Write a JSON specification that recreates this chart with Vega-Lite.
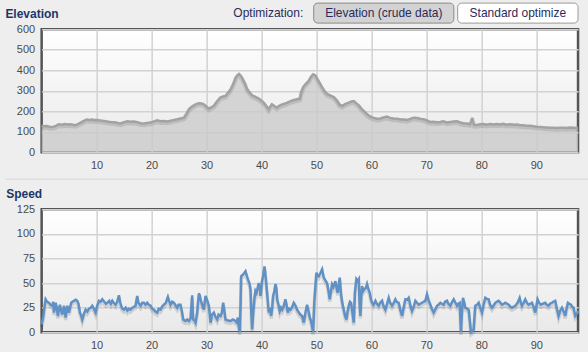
{
  "$schema": "https://vega.github.io/schema/vega-lite/v6.json",
  "background": "#eeeeee",
  "padding": {"left": 2.65, "top": 1.3, "right": 0, "bottom": 0},
  "bounds": "flush",
  "spacing": 57,
  "config": {
    "font": "Liberation Sans",
    "view": {
      "stroke": "#555555",
      "strokeWidth": 2.5,
      "fill": {"gradient": "linear", "x1": 0, "y1": 0, "x2": 0, "y2": 1, "stops": [{"offset": 0, "color": "#ffffff"}, {"offset": 1, "color": "#e9e9e9"}]}
    },
    "axis": {
      "domain": false,
      "ticks": false,
      "grid": true,
      "gridColor": "#d2d2d2",
      "gridWidth": 1.5,
      "title": null,
      "labelFont": "Liberation Sans",
      "labelFontSize": 11,
      "labelColor": "#4a4a4a",
      "labelOverlap": false,
      "labelFlush": false
    },
    "axisX": {"labelPadding": 7},
    "axisY": {"labelPadding": 7}
  },
  "datasets": {
    "elevation": [
      {"km":0,"elevation":130},{"km":0.5,"elevation":127},{"km":1.0,"elevation":128},{"km":1.5,"elevation":124},{"km":2.2,"elevation":125},{"km":2.7,"elevation":130},{"km":3.1,"elevation":137},{"km":3.7,"elevation":135},{"km":4.2,"elevation":138},{"km":4.7,"elevation":136},{"km":5.2,"elevation":137},{"km":5.7,"elevation":134},{"km":6.2,"elevation":133},{"km":6.7,"elevation":139},{"km":7.1,"elevation":145},{"km":7.6,"elevation":152},{"km":8.2,"elevation":160},{"km":8.7,"elevation":158},{"km":9.2,"elevation":160},{"km":9.5,"elevation":157},{"km":10.1,"elevation":158},{"km":10.7,"elevation":155},{"km":11.3,"elevation":153},{"km":11.9,"elevation":150},{"km":12.5,"elevation":148},{"km":13.0,"elevation":147},{"km":13.5,"elevation":145},{"km":14.0,"elevation":142},{"km":14.4,"elevation":141},{"km":15.0,"elevation":147},{"km":15.6,"elevation":151},{"km":16.2,"elevation":149},{"km":16.8,"elevation":150},{"km":17.4,"elevation":147},{"km":18.0,"elevation":142},{"km":18.6,"elevation":140},{"km":19.2,"elevation":143},{"km":19.8,"elevation":145},{"km":20.4,"elevation":150},{"km":21.0,"elevation":156},{"km":21.6,"elevation":152},{"km":22.2,"elevation":153},{"km":22.9,"elevation":150},{"km":23.5,"elevation":154},{"km":24.1,"elevation":158},{"km":24.7,"elevation":161},{"km":25.3,"elevation":165},{"km":25.9,"elevation":169},{"km":26.4,"elevation":190},{"km":26.8,"elevation":210},{"km":27.3,"elevation":222},{"km":27.7,"elevation":229},{"km":28.2,"elevation":236},{"km":28.6,"elevation":239},{"km":29.1,"elevation":238},{"km":29.5,"elevation":234},{"km":30.0,"elevation":222},{"km":30.4,"elevation":213},{"km":30.9,"elevation":220},{"km":31.3,"elevation":226},{"km":31.9,"elevation":248},{"km":32.5,"elevation":267},{"km":33.0,"elevation":272},{"km":33.45,"elevation":275},{"km":33.9,"elevation":290},{"km":34.4,"elevation":307},{"km":34.9,"elevation":335},{"km":35.3,"elevation":364},{"km":35.6,"elevation":375},{"km":35.9,"elevation":382},{"km":36.2,"elevation":374},{"km":36.5,"elevation":362},{"km":37.0,"elevation":335},{"km":37.4,"elevation":307},{"km":37.9,"elevation":290},{"km":38.3,"elevation":278},{"km":38.9,"elevation":270},{"km":39.5,"elevation":262},{"km":40.0,"elevation":252},{"km":40.4,"elevation":242},{"km":40.9,"elevation":225},{"km":41.3,"elevation":210},{"km":41.6,"elevation":222},{"km":41.9,"elevation":234},{"km":42.4,"elevation":225},{"km":42.8,"elevation":218},{"km":43.3,"elevation":228},{"km":43.8,"elevation":234},{"km":44.5,"elevation":240},{"km":45.3,"elevation":250},{"km":45.9,"elevation":255},{"km":46.5,"elevation":259},{"km":47.0,"elevation":262},{"km":47.2,"elevation":290},{"km":47.6,"elevation":318},{"km":48.0,"elevation":332},{"km":48.6,"elevation":348},{"km":49.0,"elevation":368},{"km":49.4,"elevation":380},{"km":49.8,"elevation":375},{"km":50.1,"elevation":360},{"km":50.6,"elevation":338},{"km":51.0,"elevation":318},{"km":51.5,"elevation":298},{"km":51.9,"elevation":285},{"km":52.5,"elevation":278},{"km":53.2,"elevation":268},{"km":53.8,"elevation":250},{"km":54.2,"elevation":232},{"km":54.7,"elevation":226},{"km":55.2,"elevation":235},{"km":55.9,"elevation":242},{"km":56.4,"elevation":248},{"km":56.8,"elevation":250},{"km":57.2,"elevation":240},{"km":57.7,"elevation":229},{"km":58.2,"elevation":212},{"km":58.6,"elevation":202},{"km":59.2,"elevation":186},{"km":59.8,"elevation":174},{"km":60.4,"elevation":168},{"km":61.0,"elevation":164},{"km":61.6,"elevation":165},{"km":62.2,"elevation":170},{"km":62.8,"elevation":174},{"km":63.4,"elevation":168},{"km":64.0,"elevation":165},{"km":64.7,"elevation":164},{"km":65.3,"elevation":160},{"km":65.9,"elevation":160},{"km":66.5,"elevation":158},{"km":67.1,"elevation":163},{"km":67.5,"elevation":168},{"km":68.0,"elevation":169},{"km":68.5,"elevation":166},{"km":69.0,"elevation":163},{"km":69.5,"elevation":161},{"km":70.1,"elevation":155},{"km":70.7,"elevation":148},{"km":71.3,"elevation":149},{"km":71.9,"elevation":147},{"km":72.5,"elevation":148},{"km":73.1,"elevation":151},{"km":73.7,"elevation":146},{"km":74.4,"elevation":148},{"km":75.0,"elevation":150},{"km":75.6,"elevation":151},{"km":76.2,"elevation":145},{"km":76.8,"elevation":141},{"km":77.4,"elevation":140},{"km":77.9,"elevation":137},{"km":78.2,"elevation":152},{"km":78.35,"elevation":168},{"km":78.5,"elevation":150},{"km":78.7,"elevation":134},{"km":79.2,"elevation":133},{"km":79.8,"elevation":137},{"km":80.4,"elevation":138},{"km":81.0,"elevation":135},{"km":81.6,"elevation":138},{"km":82.2,"elevation":136},{"km":82.8,"elevation":138},{"km":83.4,"elevation":136},{"km":84.0,"elevation":139},{"km":84.6,"elevation":135},{"km":85.3,"elevation":137},{"km":85.9,"elevation":134},{"km":86.5,"elevation":135},{"km":87.1,"elevation":132},{"km":87.7,"elevation":132},{"km":88.3,"elevation":129},{"km":88.9,"elevation":130},{"km":89.5,"elevation":127},{"km":90.1,"elevation":125},{"km":90.7,"elevation":124},{"km":91.3,"elevation":122},{"km":91.9,"elevation":121},{"km":92.5,"elevation":120},{"km":93.1,"elevation":120},{"km":93.7,"elevation":118},{"km":94.3,"elevation":120},{"km":94.9,"elevation":120},{"km":95.5,"elevation":119},{"km":96.1,"elevation":121},{"km":96.8,"elevation":120},{"km":97.6,"elevation":118}
    ],
    "speed": [
      {"km":0.0,"speed":8},{"km":0.15,"speed":12},{"km":0.3,"speed":16},{"km":0.5,"speed":25},{"km":0.73,"speed":33.5},{"km":1.0,"speed":31},{"km":1.33,"speed":30},{"km":1.6,"speed":28},{"km":1.94,"speed":27},{"km":2.1,"speed":31},{"km":2.24,"speed":20},{"km":2.55,"speed":30},{"km":2.75,"speed":25},{"km":2.97,"speed":16.6},{"km":3.15,"speed":24},{"km":3.33,"speed":28},{"km":3.55,"speed":22},{"km":3.76,"speed":18},{"km":4.06,"speed":27},{"km":4.2,"speed":22},{"km":4.36,"speed":15},{"km":4.67,"speed":27},{"km":4.97,"speed":20},{"km":5.2,"speed":26},{"km":5.39,"speed":30},{"km":5.6,"speed":31},{"km":5.88,"speed":32},{"km":6.2,"speed":33},{"km":6.48,"speed":32},{"km":6.7,"speed":29},{"km":6.97,"speed":20},{"km":7.2,"speed":17},{"km":7.39,"speed":13},{"km":7.7,"speed":19},{"km":8.0,"speed":23},{"km":8.3,"speed":21},{"km":8.61,"speed":24},{"km":8.9,"speed":25},{"km":9.21,"speed":27},{"km":9.5,"speed":24},{"km":9.82,"speed":20},{"km":10.1,"speed":27},{"km":10.42,"speed":32},{"km":10.7,"speed":31},{"km":11.03,"speed":33.5},{"km":11.4,"speed":31},{"km":11.7,"speed":29},{"km":11.94,"speed":30},{"km":12.3,"speed":32},{"km":12.6,"speed":29},{"km":12.85,"speed":32},{"km":13.1,"speed":30},{"km":13.45,"speed":28},{"km":13.75,"speed":31},{"km":14.06,"speed":37.6},{"km":14.3,"speed":30},{"km":14.48,"speed":27},{"km":14.7,"speed":24},{"km":14.97,"speed":23},{"km":15.3,"speed":25},{"km":15.6,"speed":22},{"km":15.9,"speed":24},{"km":16.18,"speed":23},{"km":16.5,"speed":25},{"km":16.8,"speed":26},{"km":17.09,"speed":27},{"km":17.39,"speed":37},{"km":17.6,"speed":30},{"km":18.0,"speed":27},{"km":18.3,"speed":30},{"km":18.61,"speed":30},{"km":18.9,"speed":28},{"km":19.21,"speed":30},{"km":19.5,"speed":28},{"km":19.82,"speed":27},{"km":20.1,"speed":24},{"km":20.42,"speed":23},{"km":20.7,"speed":21},{"km":21.03,"speed":20},{"km":21.3,"speed":24},{"km":21.64,"speed":23},{"km":21.9,"speed":26},{"km":22.24,"speed":28},{"km":22.6,"speed":30},{"km":22.97,"speed":36},{"km":23.2,"speed":32},{"km":23.45,"speed":28},{"km":23.75,"speed":31},{"km":24.06,"speed":30},{"km":24.4,"speed":27},{"km":24.67,"speed":25},{"km":24.9,"speed":28},{"km":25.27,"speed":28},{"km":25.5,"speed":22},{"km":25.76,"speed":13},{"km":26.0,"speed":12},{"km":26.18,"speed":11.5},{"km":26.5,"speed":13},{"km":26.79,"speed":11.5},{"km":27.1,"speed":14},{"km":27.39,"speed":37.6},{"km":27.5,"speed":20},{"km":27.58,"speed":13},{"km":27.8,"speed":12},{"km":28.0,"speed":9.8},{"km":28.3,"speed":20},{"km":28.61,"speed":39.6},{"km":28.8,"speed":37},{"km":28.91,"speed":33.5},{"km":29.2,"speed":28},{"km":29.52,"speed":23},{"km":29.82,"speed":37},{"km":30.1,"speed":33},{"km":30.42,"speed":27},{"km":30.6,"speed":18},{"km":30.73,"speed":9.8},{"km":31.0,"speed":18},{"km":31.33,"speed":20},{"km":31.6,"speed":16},{"km":31.94,"speed":13},{"km":32.2,"speed":18},{"km":32.55,"speed":16.6},{"km":32.8,"speed":20},{"km":33.03,"speed":30},{"km":33.2,"speed":24},{"km":33.45,"speed":13},{"km":33.9,"speed":12},{"km":34.36,"speed":11.5},{"km":34.8,"speed":13},{"km":35.27,"speed":11.5},{"km":35.5,"speed":10},{"km":35.7,"speed":15},{"km":35.9,"speed":5},{"km":36.06,"speed":0},{"km":36.2,"speed":30},{"km":36.3,"speed":57},{"km":36.7,"speed":59},{"km":37.09,"speed":62},{"km":37.3,"speed":58},{"km":37.52,"speed":54},{"km":37.8,"speed":50},{"km":38.0,"speed":44},{"km":38.15,"speed":20},{"km":38.3,"speed":3},{"km":38.5,"speed":20},{"km":38.73,"speed":35},{"km":38.9,"speed":42},{"km":39.09,"speed":40},{"km":39.3,"speed":45},{"km":39.52,"speed":50},{"km":39.7,"speed":44},{"km":39.82,"speed":37},{"km":40.1,"speed":52},{"km":40.3,"speed":57},{"km":40.55,"speed":67},{"km":40.7,"speed":60},{"km":40.91,"speed":47},{"km":41.1,"speed":35},{"km":41.33,"speed":20},{"km":41.5,"speed":25},{"km":41.76,"speed":16.6},{"km":41.95,"speed":25},{"km":42.12,"speed":37},{"km":42.35,"speed":42},{"km":42.55,"speed":49},{"km":42.7,"speed":45},{"km":42.85,"speed":33.5},{"km":43.1,"speed":28},{"km":43.33,"speed":21.7},{"km":43.55,"speed":25},{"km":43.76,"speed":23},{"km":44.0,"speed":26},{"km":44.36,"speed":33.5},{"km":44.55,"speed":28},{"km":44.79,"speed":20},{"km":45.0,"speed":24},{"km":45.27,"speed":23},{"km":45.6,"speed":26},{"km":45.88,"speed":30},{"km":46.2,"speed":27},{"km":46.48,"speed":23},{"km":46.8,"speed":20},{"km":47.09,"speed":18},{"km":47.39,"speed":16.6},{"km":47.7,"speed":9.8},{"km":48.0,"speed":20},{"km":48.3,"speed":28},{"km":48.55,"speed":22},{"km":48.79,"speed":15},{"km":49.0,"speed":12},{"km":49.21,"speed":6},{"km":49.39,"speed":0},{"km":49.64,"speed":33.5},{"km":50.0,"speed":60.6},{"km":50.2,"speed":58},{"km":50.42,"speed":57},{"km":50.7,"speed":60},{"km":51.03,"speed":64},{"km":51.33,"speed":55.6},{"km":51.6,"speed":53},{"km":51.94,"speed":50},{"km":52.2,"speed":42},{"km":52.42,"speed":33.5},{"km":52.85,"speed":48.8},{"km":53.1,"speed":46},{"km":53.45,"speed":52},{"km":53.7,"speed":44},{"km":53.88,"speed":40},{"km":54.05,"speed":48},{"km":54.24,"speed":55.6},{"km":54.48,"speed":38.6},{"km":54.7,"speed":30},{"km":54.97,"speed":23},{"km":55.2,"speed":17},{"km":55.45,"speed":13},{"km":55.7,"speed":22},{"km":55.88,"speed":27},{"km":56.1,"speed":31},{"km":56.3,"speed":30},{"km":56.6,"speed":18},{"km":56.79,"speed":9.8},{"km":57.0,"speed":40},{"km":57.27,"speed":54},{"km":57.5,"speed":52},{"km":57.7,"speed":54},{"km":57.85,"speed":30},{"km":58.0,"speed":16.6},{"km":58.15,"speed":35},{"km":58.3,"speed":47},{"km":58.5,"speed":42},{"km":58.73,"speed":44},{"km":59.0,"speed":45},{"km":59.21,"speed":49},{"km":59.5,"speed":43},{"km":59.7,"speed":40},{"km":59.9,"speed":34},{"km":60.12,"speed":30},{"km":60.4,"speed":28},{"km":60.73,"speed":32},{"km":61.0,"speed":29},{"km":61.33,"speed":27},{"km":61.6,"speed":30},{"km":61.94,"speed":32},{"km":62.2,"speed":27},{"km":62.55,"speed":23},{"km":62.8,"speed":28},{"km":63.15,"speed":35},{"km":63.4,"speed":30},{"km":63.76,"speed":27},{"km":64.0,"speed":29},{"km":64.36,"speed":33.5},{"km":64.6,"speed":31},{"km":64.97,"speed":30},{"km":65.3,"speed":22},{"km":65.58,"speed":16.6},{"km":65.9,"speed":26},{"km":66.18,"speed":33.5},{"km":66.5,"speed":33},{"km":66.79,"speed":35},{"km":67.1,"speed":27},{"km":67.39,"speed":21.7},{"km":67.7,"speed":26},{"km":68.0,"speed":32},{"km":68.3,"speed":30},{"km":68.61,"speed":28},{"km":68.9,"speed":29},{"km":69.21,"speed":30},{"km":69.5,"speed":31},{"km":69.82,"speed":32},{"km":70.12,"speed":38.6},{"km":70.4,"speed":33},{"km":70.73,"speed":28},{"km":71.0,"speed":24},{"km":71.33,"speed":20},{"km":71.6,"speed":23},{"km":71.94,"speed":27},{"km":72.2,"speed":28},{"km":72.55,"speed":30},{"km":72.8,"speed":29},{"km":73.15,"speed":28},{"km":73.4,"speed":31},{"km":73.76,"speed":32},{"km":74.0,"speed":29},{"km":74.36,"speed":27},{"km":74.6,"speed":30},{"km":74.97,"speed":33.5},{"km":75.3,"speed":30},{"km":75.58,"speed":27},{"km":75.8,"speed":29},{"km":76.06,"speed":30},{"km":76.2,"speed":12},{"km":76.3,"speed":0},{"km":76.45,"speed":18},{"km":76.67,"speed":35},{"km":76.9,"speed":30},{"km":77.09,"speed":25},{"km":77.4,"speed":24},{"km":77.7,"speed":23},{"km":77.9,"speed":12},{"km":78.12,"speed":0},{"km":78.35,"speed":1},{"km":78.61,"speed":3},{"km":78.75,"speed":15},{"km":78.91,"speed":27},{"km":79.2,"speed":28},{"km":79.52,"speed":30},{"km":79.8,"speed":25},{"km":80.12,"speed":20},{"km":80.4,"speed":28},{"km":80.73,"speed":35},{"km":81.0,"speed":34},{"km":81.33,"speed":33.5},{"km":81.6,"speed":28},{"km":81.94,"speed":25},{"km":82.2,"speed":27},{"km":82.55,"speed":30},{"km":82.8,"speed":31},{"km":83.15,"speed":32},{"km":83.5,"speed":30},{"km":83.76,"speed":28},{"km":84.1,"speed":29},{"km":84.36,"speed":30},{"km":84.7,"speed":29},{"km":84.97,"speed":28},{"km":85.3,"speed":26},{"km":85.58,"speed":25},{"km":85.9,"speed":26},{"km":86.18,"speed":27},{"km":86.6,"speed":30},{"km":86.97,"speed":35},{"km":87.2,"speed":30},{"km":87.39,"speed":27},{"km":87.7,"speed":30},{"km":88.0,"speed":33.5},{"km":88.3,"speed":30},{"km":88.61,"speed":28},{"km":88.9,"speed":29},{"km":89.21,"speed":30},{"km":89.5,"speed":26},{"km":89.82,"speed":20},{"km":90.0,"speed":26},{"km":90.24,"speed":33.5},{"km":90.5,"speed":30},{"km":90.85,"speed":28},{"km":91.2,"speed":29},{"km":91.64,"speed":30},{"km":91.9,"speed":28},{"km":92.24,"speed":27},{"km":92.5,"speed":29},{"km":92.85,"speed":30},{"km":93.1,"speed":31},{"km":93.45,"speed":32},{"km":93.75,"speed":24},{"km":94.06,"speed":16.6},{"km":94.35,"speed":22},{"km":94.67,"speed":25},{"km":95.0,"speed":21},{"km":95.27,"speed":16.6},{"km":95.5,"speed":24},{"km":95.76,"speed":30},{"km":96.0,"speed":29},{"km":96.3,"speed":28},{"km":96.55,"speed":26},{"km":96.79,"speed":25},{"km":96.95,"speed":20},{"km":97.09,"speed":16.6},{"km":97.3,"speed":18},{"km":97.52,"speed":20},{"km":97.6,"speed":22}
    ],
    "elevationLabels": [{"label": "Elevation"}],
    "optimizationLabel": [{"label": "Optimization:"}],
    "crudeButton": [{"label": "Elevation (crude data)"}],
    "standardButton": [{"label": "Standard optimize"}],
    "speedLabels": [{"label": "Speed"}],
    "separator": [{"label": "separator"}]
  },
  "vconcat": [
    {
      "width": 536.4,
      "height": 123,
      "layer": [
        {
          "data": {"name": "elevation"},
          "mark": {"type": "area", "color": "#c9c9c9", "opacity": 0.75},
          "encoding": {
            "x": {"field": "km", "type": "quantitative", "scale": {"domain": [0, 97.6], "nice": false, "zero": false}, "axis": {"values": [10, 20, 30, 40, 50, 60, 70, 80, 90]}},
            "y": {"field": "elevation", "type": "quantitative", "scale": {"domain": [0, 600], "nice": false}, "axis": {"values": [0, 100, 200, 300, 400, 500, 600]}}
          }
        },
        {
          "data": {"name": "elevation"},
          "mark": {"type": "line", "color": "#000000", "opacity": 0.1, "strokeWidth": 4.5, "yOffset": 1.5},
          "encoding": {"x": {"field": "km", "type": "quantitative", "axis": {"values": [10, 20, 30, 40, 50, 60, 70, 80, 90]}}, "y": {"field": "elevation", "type": "quantitative", "axis": {"values": [0, 100, 200, 300, 400, 500, 600]}}}
        },
        {
          "data": {"name": "elevation"},
          "mark": {"type": "line", "color": "#a2a2a2", "strokeWidth": 2.5},
          "encoding": {"x": {"field": "km", "type": "quantitative", "axis": {"values": [10, 20, 30, 40, 50, 60, 70, 80, 90]}}, "y": {"field": "elevation", "type": "quantitative", "axis": {"values": [0, 100, 200, 300, 400, 500, 600]}}}
        },
        {
          "data": {"name": "elevationLabels"},
          "mark": {"type": "text", "align": "left", "baseline": "middle", "fontSize": 12, "fontWeight": "bold", "color": "#1b3668", "font": "Liberation Sans", "clip": false},
          "encoding": {"x": {"datum": -6.6, "type": "quantitative", "axis": {"values": [10, 20, 30, 40, 50, 60, 70, 80, 90]}}, "y": {"datum": 673, "type": "quantitative", "axis": {"values": [0, 100, 200, 300, 400, 500, 600]}}, "text": {"field": "label", "type": "nominal"}}
        },
        {
          "data": {"name": "optimizationLabel"},
          "mark": {"type": "text", "align": "right", "baseline": "middle", "fontSize": 12, "color": "#2a2a5c", "font": "Liberation Sans", "clip": false},
          "encoding": {"x": {"datum": 47.6, "type": "quantitative", "axis": {"values": [10, 20, 30, 40, 50, 60, 70, 80, 90]}}, "y": {"datum": 679, "type": "quantitative", "axis": {"values": [0, 100, 200, 300, 400, 500, 600]}}, "text": {"field": "label", "type": "nominal"}}
        },
        {
          "data": {"name": "crudeButton"},
          "mark": {"type": "rect", "fill": "#d3d3d3", "stroke": "#8a8a8a", "strokeWidth": 1, "cornerRadius": 4, "clip": false},
          "encoding": {"x": {"datum": 49.5, "type": "quantitative", "axis": {"values": [10, 20, 30, 40, 50, 60, 70, 80, 90]}}, "x2": {"datum": 75.0}, "y": {"datum": 727.8, "type": "quantitative", "axis": {"values": [0, 100, 200, 300, 400, 500, 600]}}, "y2": {"datum": 630.2}}
        },
        {
          "data": {"name": "crudeButton"},
          "mark": {"type": "text", "align": "center", "baseline": "middle", "fontSize": 12, "color": "#2a2a5c", "font": "Liberation Sans", "clip": false},
          "encoding": {"x": {"datum": 62.25, "type": "quantitative", "axis": {"values": [10, 20, 30, 40, 50, 60, 70, 80, 90]}}, "y": {"datum": 679, "type": "quantitative", "axis": {"values": [0, 100, 200, 300, 400, 500, 600]}}, "text": {"field": "label", "type": "nominal"}}
        },
        {
          "data": {"name": "standardButton"},
          "mark": {"type": "rect", "fill": "#ffffff", "stroke": "#9a9a9a", "strokeWidth": 1, "cornerRadius": 4, "clip": false},
          "encoding": {"x": {"datum": 75.7, "type": "quantitative", "axis": {"values": [10, 20, 30, 40, 50, 60, 70, 80, 90]}}, "x2": {"datum": 97.6}, "y": {"datum": 727.8, "type": "quantitative", "axis": {"values": [0, 100, 200, 300, 400, 500, 600]}}, "y2": {"datum": 630.2}}
        },
        {
          "data": {"name": "standardButton"},
          "mark": {"type": "text", "align": "center", "baseline": "middle", "fontSize": 12, "color": "#2a2a5c", "font": "Liberation Sans", "clip": false},
          "encoding": {"x": {"datum": 86.65, "type": "quantitative", "axis": {"values": [10, 20, 30, 40, 50, 60, 70, 80, 90]}}, "y": {"datum": 679, "type": "quantitative", "axis": {"values": [0, 100, 200, 300, 400, 500, 600]}}, "text": {"field": "label", "type": "nominal"}}
        }
      ]
    },
    {
      "width": 536.4,
      "height": 123,
      "layer": [
        {
          "data": {"name": "speed"},
          "mark": {"type": "line", "color": "#000000", "opacity": 0.12, "strokeWidth": 3.5, "yOffset": 2.5},
          "encoding": {
            "x": {"field": "km", "type": "quantitative", "scale": {"domain": [0, 97.6], "nice": false, "zero": false}, "axis": {"values": [10, 20, 30, 40, 50, 60, 70, 80, 90]}},
            "y": {"field": "speed", "type": "quantitative", "scale": {"domain": [0, 125], "nice": false}, "axis": {"values": [0, 25, 50, 75, 100, 125]}}
          }
        },
        {
          "data": {"name": "speed"},
          "mark": {"type": "line", "color": "#5f91c6", "strokeWidth": 2.5},
          "encoding": {"x": {"field": "km", "type": "quantitative", "axis": {"values": [10, 20, 30, 40, 50, 60, 70, 80, 90]}}, "y": {"field": "speed", "type": "quantitative", "axis": {"values": [0, 25, 50, 75, 100, 125]}}}
        },
        {
          "data": {"name": "separator"},
          "mark": {"type": "rule", "color": "#d6d6d6", "strokeWidth": 1, "clip": false},
          "encoding": {"x": {"datum": -6.6, "type": "quantitative", "axis": {"values": [10, 20, 30, 40, 50, 60, 70, 80, 90]}}, "x2": {"datum": 99.6}, "y": {"datum": 155.6, "type": "quantitative", "axis": {"values": [0, 25, 50, 75, 100, 125]}}}
        },
        {
          "data": {"name": "speedLabels"},
          "mark": {"type": "text", "align": "left", "baseline": "middle", "fontSize": 12, "fontWeight": "bold", "color": "#1b3668", "font": "Liberation Sans", "clip": false},
          "encoding": {"x": {"datum": -6.45, "type": "quantitative", "axis": {"values": [10, 20, 30, 40, 50, 60, 70, 80, 90]}}, "y": {"datum": 140.7, "type": "quantitative", "axis": {"values": [0, 25, 50, 75, 100, 125]}}, "text": {"field": "label", "type": "nominal"}}
        }
      ]
    }
  ]
}
